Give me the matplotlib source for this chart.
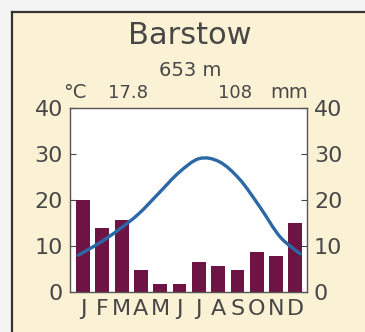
import numpy as np
import matplotlib.pyplot as plt
from matplotlib.path import Path
from matplotlib.patches import PathPatch

plt.rcParams['font.family'] = ['DejaVu Sans']

months = ['J', 'F', 'M', 'A', 'M', 'J', 'J', 'A', 'S', 'O', 'N', 'D']
precip_mm = [20, 13.9, 15.6, 4.8, 1.7, 1.7, 6.5, 5.7, 4.8, 8.7, 7.8, 15]
temp_c = [8, 10.5, 13.5, 17, 21.5, 26, 29, 28.3, 24.5, 18.5, 12, 8.3]
station = 'Barstow'
elevation = '653 m'
mean_temp = '17.8'
annual_precip = '108'

cream = '#fbf1d4'
bar_color = '#6e1444'
line_color = '#2c68a6'
text_color = '#474747'

fig = plt.figure(figsize=(3.65, 3.32), dpi=100)
fig.patch.set_facecolor('#f4f4f4')

# cream panel: an empty axes with only the left and top spines shown
bg = fig.add_axes([12 / 365, -0.05, 1.0, 1 - 12 / 332 + 0.05])
bg.set_facecolor(cream)
bg.set_xticks([])
bg.set_yticks([])
bg.spines['right'].set_visible(False)
bg.spines['bottom'].set_visible(False)
for side in ['left', 'top']:
    bg.spines[side].set_color('#333333')
    bg.spines[side].set_linewidth(1.6)

ax = fig.add_axes([70 / 365, 40 / 332, 237 / 365, 184 / 332])
ax.set_facecolor('white')
x = np.arange(12)
ax.bar(x, precip_mm, width=0.72, color=bar_color, zorder=2)

# smooth temperature curve through the monthly values
xt = np.linspace(-0.25, 11.25, 12)
pts = np.column_stack([xt, temp_c])
verts = [tuple(pts[0])]
codes = [Path.MOVETO]
for i in range(len(pts) - 1):
    p0 = pts[max(i - 1, 0)]
    p1 = pts[i]
    p2 = pts[i + 1]
    p3 = pts[min(i + 2, len(pts) - 1)]
    c1 = p1 + (p2 - p0) / 6
    c2 = p2 - (p3 - p1) / 6
    verts += [tuple(c1), tuple(c2), tuple(p2)]
    codes += [Path.CURVE4] * 3
ax.add_patch(PathPatch(Path(verts, codes), facecolor='none',
                       edgecolor=line_color, linewidth=2.4, zorder=3,
                       capstyle='round'))

ax.set_xlim(-0.67, 11.6)
ax.set_ylim(0, 40)
ax.set_xticks(x)
ax.set_xticklabels(months)
ax.set_yticks([0, 10, 20, 30, 40])
ax.tick_params(axis='x', length=0, pad=5, labelsize=16, colors=text_color)
ax.tick_params(axis='y', direction='in', length=4, pad=5, labelsize=16,
               colors=text_color, left=True, right=True,
               labelleft=True, labelright=True)
for s in ax.spines.values():
    s.set_color('#555555')
    s.set_linewidth(1.0)

fig.text(190 / 365, 1 - 35 / 332, station, ha='center', va='center',
         fontsize=22, color=text_color)
fig.text(190 / 365, 1 - 70 / 332, elevation, ha='center', va='center',
         fontsize=14, color=text_color)
fig.text(75 / 365, 1 - 93 / 332, '°C', ha='center', va='center',
         fontsize=14, color=text_color)
fig.text(128 / 365, 1 - 93 / 332, mean_temp, ha='center', va='center',
         fontsize=13, color=text_color)
fig.text(235 / 365, 1 - 93 / 332, annual_precip, ha='center', va='center',
         fontsize=13, color=text_color)
fig.text(289 / 365, 1 - 93 / 332, 'mm', ha='center', va='center',
         fontsize=14, color=text_color)

fig.savefig('out.png', dpi=100, facecolor=fig.get_facecolor())
